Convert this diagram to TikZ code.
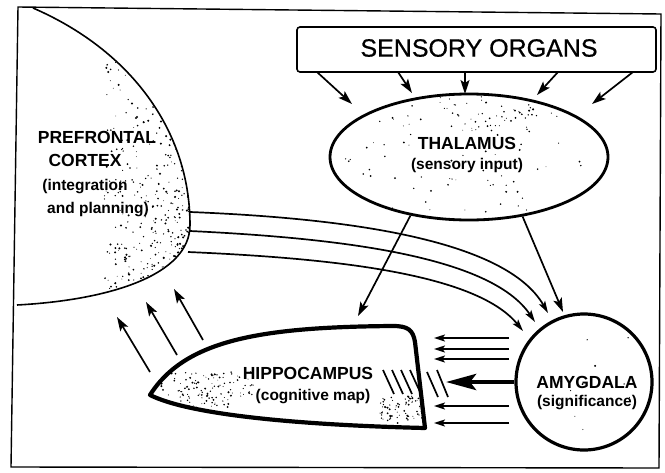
\documentclass[tikz,border=0pt]{standalone}
\usepackage{fontspec}
\setmainfont{Liberation Sans}
\usetikzlibrary{arrows.meta,shapes.geometric}
\newcommand\mystip[6]{%
  \pgfmathsetseed{#1}%
  \foreach \k in {1,...,#2}{%
    \pgfmathsetmacro\xx{#3+#4*rnd}%
    \pgfmathsetmacro\yy{#5+#6*rnd}%
    \pgfmathsetmacro\rr{0.4+0.7*rnd}%
    \fill (\xx,\yy) circle (\rr pt);}}
\begin{document}
\begin{tikzpicture}[x=1pt,y=-1pt,
  arr/.style={line width=1.7pt,-{Stealth[length=14pt,width=9pt,inset=3pt]}},
  thinarr/.style={line width=1.8pt,-{Stealth[length=11pt,width=7pt,inset=2.5pt]}},
  thickarr/.style={line width=4.5pt,-{Stealth[length=30pt,width=16pt,inset=6pt]}},
  fiber/.style={line width=1.7pt,-{Stealth[length=12pt,width=7pt,inset=2.5pt]}},
  hatch/.style={line width=1.7pt},
  big/.style={inner sep=0pt,font=\bfseries\fontsize{17.5}{20}\selectfont},
  small/.style={inner sep=0pt,font=\bfseries\fontsize{15.5}{18}\selectfont},
  title/.style={inner sep=0pt,font=\fontsize{25}{28}\selectfont\addfontfeature{FakeBold=0.6}},
]
\useasboundingbox (0,0) rectangle (665,472);
\fill[white] (0,0) rectangle (665,472);

% frame
\draw[line width=1.4pt] (18,7) -- (661,14) -- (659,468) -- (11,467) -- cycle;

% prefrontal cortex
\coordinate (pa) at (33,8);
\coordinate (pb) at (190,225);
\coordinate (pc) at (17,305);
\begin{scope}
  \clip (17,8) -- (pa) .. controls (130,50) and (190,130) .. (pb)
        .. controls (190,275) and (110,300) .. (pc) -- cycle;
  \pgfmathsetseed{11}
  \foreach \k in {1,...,900}{%
    \pgfmathsetmacro\uu{rnd}%
    \pgfmathsetmacro\vv{rnd}%
    \pgfmathsetmacro\xx{194-90*\uu*\uu*\uu}%
    \pgfmathsetmacro\yy{300-240*\vv*\vv}%
    \pgfmathsetmacro\rr{0.4+0.8*rnd}%
    \fill (\xx,\yy) circle (\rr pt);}
\end{scope}
\draw[line width=1.6pt] (pa) .. controls (130,50) and (190,130) .. (pb)
      .. controls (190,275) and (110,300) .. (pc);

\node[big] (pfc1) at (97,137) {PREFRONTAL};
\node[big] (pfc2) at (85,160) {CORTEX};
\node[small] (pfc3) at (85,187) {(integration};
\node[small] (pfc4) at (98,210) {and planning)};

% sensory organs
\node[draw,line width=1.6pt,rounded corners=3pt,minimum width=359pt,minimum height=45pt,inner sep=0pt]
  (box) at (476.5,49.5) {};
\node[title] (boxt) at (479,48) {SENSORY ORGANS};

% thalamus
\begin{scope}
  \clip (469,157) ellipse [x radius=137pt, y radius=61pt];
  \mystip{5}{90}{335}{270}{95}{125}
  \mystip{6}{50}{430}{110}{98}{35}
\end{scope}
\node[draw,ellipse,line width=2.8pt,minimum width=278pt,minimum height=126pt,inner sep=0pt]
  (thal) at (469,157) {};
\node[big] (thal1) at (467,143) {THALAMUS};
\node[small] (thal2) at (467,165) {(sensory input)};

% sensory arrows
\foreach \sx/\tx/\ty [count=\i] in {317/352/104, 398/412/93, 465/465/94, 558/537/95, 633/592/104}{
  \coordinate (s\i) at (\sx,72);
  \coordinate (t\i) at (\tx,\ty);
  \draw[arr] (s\i) -- (t\i);
}

% amygdala
\begin{scope}
  \clip (584,382) circle (66pt);
  \mystip{9}{12}{530}{110}{330}{100}
\end{scope}
\node[draw,circle,line width=3.2pt,minimum size=136pt,inner sep=0pt] (amy) at (584,382) {};
\node[big] (amy1) at (587,382) {AMYGDALA};
\node[small] (amy2) at (587,403) {(significance)};

% hippocampus
\begin{scope}
  \clip (150,395) .. controls (185,340) and (260,327) .. (393,326)
        .. controls (408,326) and (413,330) .. (415,342) -- (425,428)
        .. controls (300,425) and (190,415) .. (150,395) -- cycle;
  \mystip{3}{110}{155}{75}{372}{36}
  \mystip{4}{25}{225}{30}{372}{25}
  \mystip{8}{80}{380}{45}{396}{28}
\end{scope}
\draw[line width=4.2pt,line join=round]
  (150,395) .. controls (185,340) and (260,327) .. (393,326)
  .. controls (408,326) and (413,330) .. (415,342) -- (425,428)
  .. controls (300,425) and (190,415) .. (150,395) -- cycle;
\node[big] (hip1) at (308,373) {HIPPOCAMPUS};
\node[small] (hip2) at (313,397) {(cognitive map)};

% hatch marks
\foreach \hx [count=\i] in {383,392,401,410}{
  \draw[hatch] (\hx,370) -- ++(11,24);
}
\draw[hatch] (427,372) -- (438,397);
\draw[hatch] (437,370) -- (448,397);

% thalamus to hippocampus / amygdala
\coordinate (hipt) at (358,316);
\coordinate (amyt) at (563,312);
\draw[arr] (thal.225) -- (hipt);
\draw[arr] (thal.-48) -- (amyt);

% fibres prefrontal -> amygdala
\coordinate (f1a) at (190,212); \coordinate (f1b) at (548,313);
\coordinate (f2a) at (190,231); \coordinate (f2b) at (535,322);
\coordinate (f3a) at (188,252); \coordinate (f3b) at (523,331);
\draw[fiber] (f1a) .. controls (340,218) and (505,238) .. (f1b);
\draw[fiber] (f2a) .. controls (335,238) and (490,255) .. (f2b);
\draw[fiber] (f3a) .. controls (325,258) and (475,272) .. (f3b);

% amygdala -> hippocampus arrows
\foreach \yy [count=\i] in {338,349,359,406,423}{
  \coordinate (as\i) at (509,\yy);
  \coordinate (at\i) at (434,\yy);
  \draw[thinarr] (as\i) -- (at\i);
}
\coordinate (tk) at (446,382);
\draw[thickarr] (amy.west) -- (tk);

% hippocampus -> prefrontal arrows
\foreach \ax/\ay/\bx/\by [count=\i] in {150/372/117/317, 177/355/146/302, 203/340/174/289}{
  \coordinate (ha\i) at (\ax,\ay);
  \coordinate (hb\i) at (\bx,\by);
  \draw[arr] (ha\i) -- (hb\i);
}
\end{tikzpicture}
\end{document}
